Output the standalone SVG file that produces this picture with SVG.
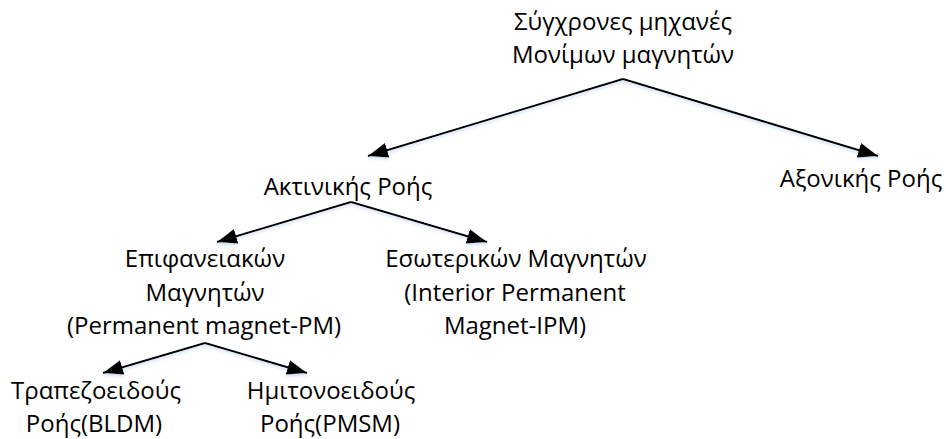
<svg xmlns="http://www.w3.org/2000/svg" width="946" height="439" viewBox="0 0 946 439">
  <style>
    .lbl { font-family: "Open Sans", "Noto Sans", "DejaVu Sans", sans-serif; font-size: 24px; fill: #000; text-anchor: middle; }
    .edge { stroke: #000; stroke-width: 2; fill: none; marker-end: url(#arrow); }
  </style>
  <defs>
    <marker id="arrow" markerUnits="userSpaceOnUse" markerWidth="21" markerHeight="16" refX="20" refY="7.5" orient="auto">
      <path d="M0,0 L20,7.5 L0,15 z" fill="#000"/>
    </marker>
    <filter id="glow" x="-10%" y="-30%" width="120%" height="160%">
      <feDropShadow dx="0" dy="2" stdDeviation="1.5" flood-color="#8fb0dc" flood-opacity="0.45"/>
    </filter>
  </defs>
  <rect width="946" height="439" fill="#fff"/>

  <!-- connectors -->
  <g id="connectors" filter="url(#glow)">
    <line class="edge" x1="623" y1="79" x2="368" y2="156"/>
    <line class="edge" x1="623" y1="79" x2="878" y2="156"/>
    <line class="edge" x1="351" y1="202" x2="217" y2="242"/>
    <line class="edge" x1="351" y1="202" x2="487" y2="242"/>
    <line class="edge" x1="205" y1="343" x2="103" y2="373"/>
    <line class="edge" x1="205" y1="343" x2="307" y2="373"/>
  </g>

  <!-- nodes -->
  <g id="pm-machines">
    <text class="lbl" x="623" y="30">Σύγχρονες μηχανές</text>
    <text class="lbl" x="623" y="63">Μονίμων μαγνητών</text>
  </g>
  <g id="radial-flux">
    <text class="lbl" x="348" y="195">Ακτινικής Ροής</text>
  </g>
  <g id="axial-flux">
    <text class="lbl" x="861" y="187">Αξονικής Ροής</text>
  </g>
  <g id="surface-pm">
    <text class="lbl" x="205" y="267">Επιφανειακών</text>
    <text class="lbl" x="205" y="301">Μαγνητών</text>
    <text class="lbl" x="204" y="334">(Permanent magnet-PM)</text>
  </g>
  <g id="interior-pm">
    <text class="lbl" x="516" y="267">Εσωτερικών Μαγνητών</text>
    <text class="lbl" x="515" y="301">(Interior Permanent</text>
    <text class="lbl" x="515" y="334">Magnet-IPM)</text>
  </g>
  <g id="trapezoidal">
    <text class="lbl" x="96" y="399">Τραπεζοειδούς</text>
    <text class="lbl" x="94" y="432">Ροής(BLDM)</text>
  </g>
  <g id="sinusoidal">
    <text class="lbl" x="331" y="399">Ημιτονοειδούς</text>
    <text class="lbl" x="330" y="432">Ροής(PMSM)</text>
  </g>
</svg>
